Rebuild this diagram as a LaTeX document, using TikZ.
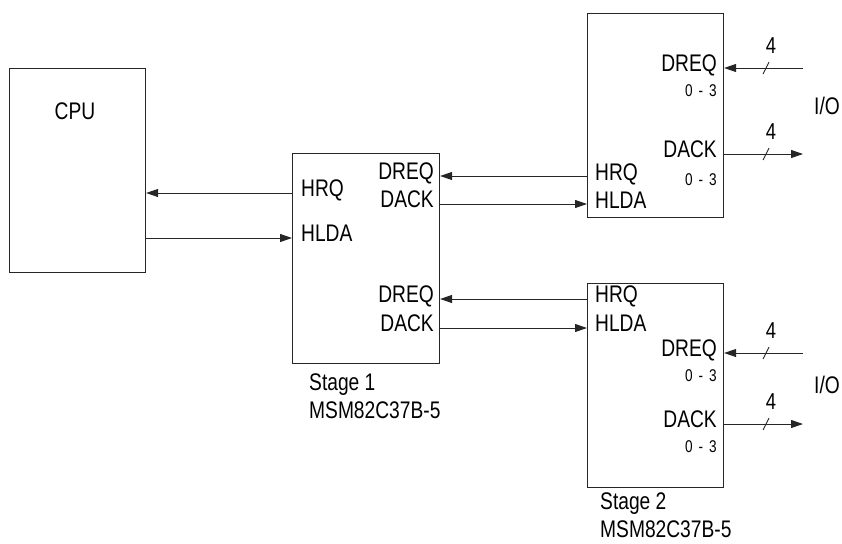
\documentclass[tikz,border=0pt]{standalone}
\usepackage{fontspec}
\setmainfont{Liberation Sans}[FakeStretch=0.8]
\usetikzlibrary{arrows.meta}
\newcommand{\rng}{0\hspace{6pt}-\hspace{6pt}3}
\begin{document}
\begin{tikzpicture}[x=1pt,y=-1pt,
  box/.style={draw=black!85, line width=1.1pt, inner sep=0pt, anchor=north west, minimum width=136pt, minimum height=204pt},
  lbl/.style={inner sep=0pt, text height=0.72em, text depth=0pt, font=\fontsize{24}{28}\selectfont},
  sml/.style={inner sep=0pt, text height=0.72em, text depth=0pt, font=\fontsize{17}{20}\selectfont},
  num/.style={inner sep=0pt, text height=0.72em, text depth=0pt, font=\fontsize{23}{27}\selectfont},
  captxt/.style={inner sep=0pt, anchor=north west, align=left, font=\fontsize{24}{28}\selectfont},
  conn/.style={draw=black!85, line width=1pt},
  arr/.style={conn, -{Triangle[length=12pt,width=8pt]}},
  tick/.style={draw=black!85, line width=0.9pt}
]
\useasboundingbox (0,0) rectangle (842,543);

% boxes
\node[box] (cpu) at (9,68) {};
\node[box, minimum width=147pt, minimum height=210pt] (s1) at (292,153) {};
\node[box] (t) at (587,13) {};
\node[box] (b) at (587,283) {};

% CPU
\node[lbl] (cpulbl) at (75,116) {CPU};

% Stage 1 labels
\node[lbl, anchor=west] (s1hrq) at (301,193) {HRQ};
\node[lbl, anchor=west] (s1hlda) at (301,238) {HLDA};
\node[lbl, anchor=east] (s1dreqa) at (434,176) {DREQ};
\node[lbl, anchor=east] (s1dacka) at (434,204) {DACK};
\node[lbl, anchor=east] (s1dreqb) at (434,299) {DREQ};
\node[lbl, anchor=east] (s1dackb) at (434,328) {DACK};
\node[captxt] (s1cap) at (309,374) {Stage 1\\MSM82C37B-5};

% upper chip labels
\node[lbl, anchor=west] (thrq) at (595,177) {HRQ};
\node[lbl, anchor=west] (thlda) at (595,205) {HLDA};
\node[lbl, anchor=east] (tdreq) at (717,68) {DREQ};
\node[sml, anchor=east] (tdreqn) at (717,93) {\rng};
\node[lbl, anchor=east] (tdack) at (717,154) {DACK};
\node[sml, anchor=east] (tdackn) at (717,182) {\rng};

% lower chip labels
\node[lbl, anchor=west] (bhrq) at (595,299) {HRQ};
\node[lbl, anchor=west] (bhlda) at (595,328) {HLDA};
\node[lbl, anchor=east] (bdreq) at (717,353) {DREQ};
\node[sml, anchor=east] (bdreqn) at (717,378) {\rng};
\node[lbl, anchor=east] (bdack) at (717,424) {DACK};
\node[sml, anchor=east] (bdackn) at (717,449) {\rng};
\node[captxt] (bcap) at (600,493) {Stage 2\\MSM82C37B-5};

% CPU <-> Stage 1
\draw[arr] (s1.west |- s1hrq) -- (cpu.east |- s1hrq);
\draw[arr] (cpu.east |- s1hlda) -- (s1.west |- s1hlda);

% Stage 1 <-> chips
\draw[arr] (t.west |- s1dreqa) -- (s1.east |- s1dreqa);
\draw[arr] (s1.east |- s1dacka) -- (t.west |- s1dacka);
\draw[arr] (b.west |- s1dreqb) -- (s1.east |- s1dreqb);
\draw[arr] (s1.east |- s1dackb) -- (b.west |- s1dackb);

% I/O buses
\coordinate (tin) at (803,68);
\coordinate (tout) at (803,154);
\coordinate (bin) at (803,353);
\coordinate (bout) at (803,424);
\draw[arr] (tin) -- (t.east |- tin);
\draw[arr] (t.east |- tout) -- (tout);
\draw[arr] (bin) -- (b.east |- bin);
\draw[arr] (b.east |- bout) -- (bout);

\foreach \c/\y in {ta/68, tb/154, ba/353, bb/424}{
  \coordinate (sl\c) at (766,\y);
  \draw[tick] (sl\c) +(-3,6) -- +(3,-6);
  \node[num] (n\c) at ([shift={(5pt,18pt)}]sl\c) {4};
}

\node[lbl] (tio) at (827,111) {I/O};
\node[lbl] (bio) at (827,390) {I/O};
\end{tikzpicture}
\end{document}
